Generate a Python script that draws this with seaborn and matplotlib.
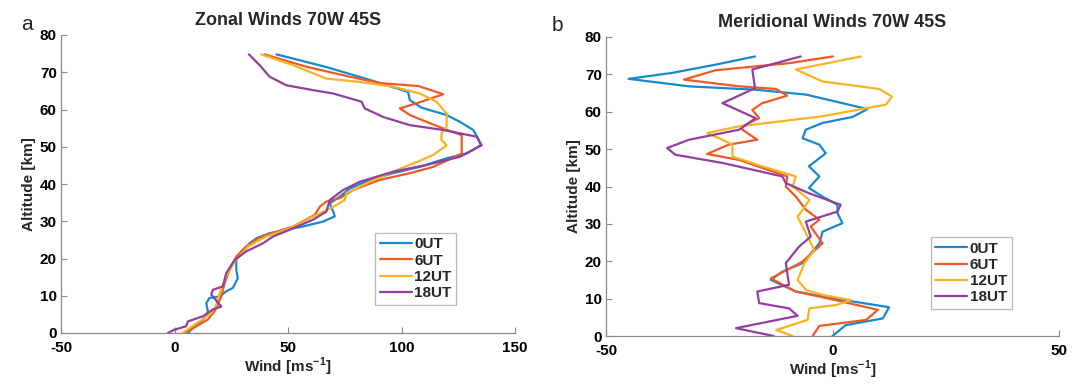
import numpy as np
import pandas as pd
import matplotlib
matplotlib.use("Agg")
import matplotlib.pyplot as plt
import seaborn as sns

# ---------------- data ----------------
series_labels = ["0UT", "6UT", "12UT", "18UT"]
series_colors = ["#1689cf", "#ef5a24", "#f9b323", "#923fa0"]

# Zonal winds (panel a)
zon_alt_0 = [74.8, 71.4, 67.4, 64.7, 62.5, 60.5, 58.5, 56.7, 54.5, 52.2, 50.4, 48.2, 46.9, 44.6, 42.9, 41.1, 38.8,
             36.6, 34.8, 32.6, 31.3, 29.9, 28.6, 27.7, 26.8, 25.4, 24.1, 21.9, 20.1, 17.0, 14.7, 12.1, 11.2, 9.8, 9.4,
             8.0, 5.8, 4.5, 2.7, 1.3, 0.0]
zon_wind_0 = [44.9, 66.9, 89.0, 102.9, 103.7, 108.8, 119.9, 125.7, 131.6, 133.8, 134.9, 128.7, 119.9, 108.0, 96.3,
              86.0, 77.2, 72.8, 68.4, 69.9, 70.6, 65.4, 56.6, 49.3, 41.9, 36.0, 33.1, 29.4, 27.2, 27.2, 27.9, 25.7,
              22.8, 19.9, 15.4, 14.0, 14.7, 14.0, 11.0, 8.1, 5.9]

zon_alt_6 = [74.8, 71.5, 68.8, 67.1, 66.3, 64.1, 62.1, 60.3, 58.5, 56.7, 54.9, 53.1, 48.2, 46.9, 44.6, 42.9, 41.1,
             38.4, 36.2, 35.3, 33.9, 31.7, 28.6, 27.2, 25.4, 23.2, 20.5, 17.0, 13.4, 9.8, 5.8, 3.6, 1.8, 0.0]
zon_wind_6 = [39.7, 58.0, 77.2, 90.4, 107.4, 118.4, 108.8, 99.3, 103.7, 111.0, 118.4, 126.5, 126.5, 122.1, 114.0,
              103.7, 90.4, 78.7, 72.8, 66.9, 64.0, 61.8, 52.2, 44.9, 36.8, 31.6, 27.2, 24.3, 22.1, 20.6, 17.6, 14.7,
              9.6, 4.4]

zon_alt_12 = [74.8, 71.9, 68.3, 67.4, 66.1, 64.3, 62.1, 58.9, 55.4, 53.6, 51.8, 50.4, 47.8, 45.5, 43.3, 40.6, 37.5,
              35.7, 33.9, 30.8, 28.1, 25.9, 23.2, 19.2, 15.2, 10.7, 7.1, 5.4, 3.1, 1.3, 0.0]
zon_wind_12 = [38.2, 52.2, 66.9, 81.6, 96.3, 108.0, 115.4, 119.9, 119.9, 117.6, 117.6, 119.9, 114.0, 105.1, 96.3,
               86.0, 75.7, 75.0, 70.0, 59.6, 50.7, 40.4, 32.4, 26.5, 22.8, 19.9, 18.1, 16.2, 11.0, 6.6, 3.7]

zon_alt_18 = [74.8, 71.9, 68.8, 66.5, 65.2, 64.3, 62.5, 62.1, 60.3, 58.0, 55.8, 54.5, 52.7, 50.4, 47.3, 45.1, 43.3,
              40.6, 38.4, 35.7, 32.6, 30.4, 28.1, 25.9, 24.1, 21.9, 19.6, 16.1, 12.5, 11.6, 10.3, 7.1, 6.3, 4.5, 3.1,
              1.8, 0.9, 0.0]
zon_wind_18 = [32.8, 37.5, 41.9, 49.3, 61.0, 69.9, 80.1, 82.4, 83.8, 91.9, 103.7, 118.4, 133.1, 135.3, 125.7, 111.0,
               96.3, 81.6, 74.3, 68.4, 66.9, 61.0, 52.2, 43.4, 39.0, 31.6, 26.5, 22.8, 21.3, 16.9, 16.2, 20.6, 16.9,
               12.5, 5.9, 5.1, 0.0, -2.9]

# Meridional winds (panel b)
mer_alt_0 = [74.8, 72.6, 70.4, 68.8, 66.8, 65.9, 64.6, 62.3, 60.7, 58.6, 57.0, 55.2, 52.9, 51.2, 48.9, 45.4, 42.7,
             39.6, 37.3, 35.1, 32.9, 30.2, 27.9, 24.8, 19.5, 17.2, 15.0, 11.9, 10.1, 7.7, 4.7, 2.9, 0.0]
mer_wind_0 = [-17.1, -25.8, -35.4, -45.0, -31.7, -17.0, -5.9, 2.2, 7.7, 4.4, -2.2, -5.9, -6.6, -2.9, -1.5, -5.2,
              -2.9, -5.2, -2.2, 1.1, 1.1, 2.2, -2.2, -2.9, -6.6, -11.1, -13.6, -8.1, 0.0, 12.5, 11.1, 2.9, 0.0]

mer_alt_6 = [74.8, 73.0, 71.1, 68.6, 66.8, 66.1, 64.3, 62.3, 60.5, 58.3, 56.1, 55.2, 52.5, 51.2, 48.7, 47.1, 42.7,
             40.0, 37.3, 33.8, 31.1, 29.3, 24.8, 19.9, 15.4, 11.9, 9.6, 7.0, 4.3, 2.7, 0.0]
mer_wind_6 = [0.1, -9.6, -25.8, -32.8, -20.6, -12.5, -10.0, -15.5, -17.7, -16.2, -19.9, -19.9, -16.6, -22.9, -27.7,
              -20.6, -10.0, -10.3, -8.1, -5.9, -2.9, -4.8, -2.2, -6.6, -13.6, -8.1, 0.7, 10.0, 7.4, -2.9, -4.4]

mer_alt_12 = [74.8, 71.3, 68.1, 66.1, 64.1, 61.9, 58.8, 56.1, 54.3, 52.5, 51.2, 48.0, 45.4, 42.7, 40.0, 36.4, 31.9,
              28.3, 23.0, 19.5, 15.0, 12.3, 11.0, 9.6, 8.3, 7.4, 4.3, 1.6, 0.0]
mer_wind_12 = [6.3, -8.1, -2.2, 10.3, 13.1, 11.8, -2.2, -20.6, -27.7, -24.3, -22.1, -22.1, -15.5, -8.1, -8.8, -5.1,
               -7.7, -6.2, -4.0, -6.2, -7.7, -5.8, -2.2, 4.1, 0.8, -5.1, -5.5, -12.4, -8.8]

mer_alt_18 = [74.8, 71.3, 66.3, 62.3, 58.3, 55.2, 52.5, 50.3, 48.5, 46.3, 42.7, 40.9, 38.2, 35.1, 33.3, 30.6, 26.6,
              23.9, 19.5, 13.7, 11.9, 8.8, 7.4, 5.4, 2.1, 0.0]
mer_wind_18 = [-7.0, -17.7, -17.1, -24.3, -17.0, -20.6, -31.7, -36.5, -34.7, -24.3, -11.1, -10.3, -5.2, 1.8, 1.1,
               -5.9, -4.8, -7.4, -10.3, -9.6, -16.6, -16.2, -9.6, -7.7, -21.3, -13.0]

zon_xticks = [-50, 0, 50, 100, 150]
mer_xticks = [-50, 0, 50]
alt_ticks = [0, 10, 20, 30, 40, 50, 60, 70, 80]


def build(alts, winds):
    frames = []
    for lab, a, w in zip(series_labels, alts, winds):
        frames.append(pd.DataFrame({"Altitude": a, "Wind": w, "Time": lab}))
    return pd.concat(frames, ignore_index=True)


df_zon = build([zon_alt_0, zon_alt_6, zon_alt_12, zon_alt_18],
               [zon_wind_0, zon_wind_6, zon_wind_12, zon_wind_18])
df_mer = build([mer_alt_0, mer_alt_6, mer_alt_12, mer_alt_18],
               [mer_wind_0, mer_wind_6, mer_wind_12, mer_wind_18])

# ---------------- style ----------------
sns.set_style("white")
plt.rcParams["font.family"] = ["Liberation Sans", "DejaVu Sans"]
plt.rcParams["mathtext.fontset"] = "custom"
plt.rcParams["mathtext.bf"] = "Liberation Sans:bold"
plt.rcParams["mathtext.rm"] = "Liberation Sans"

axis_gray = "#8a8a8a"
tick_fs = 11
label_fs = 11
title_fs = 13
legend_fs = 11

fig = plt.figure(figsize=(10.81, 3.89), dpi=100)
ax1 = fig.add_axes([61 / 1081, 1 - 333 / 389, (515 - 61) / 1081, (333 - 35) / 389])
ax2 = fig.add_axes([606 / 1081, 1 - 336 / 389, (1059 - 606) / 1081, (336 - 37) / 389])


def draw(ax, df, xticks, title, leg_anchor):
    sns.lineplot(data=df, x="Wind", y="Altitude", hue="Time", hue_order=series_labels,
                 palette=series_colors, sort=False, estimator=None, orient="y",
                 linewidth=1.6, legend=False, ax=ax)
    ax.set_xlim(xticks[0], xticks[-1])
    ax.set_ylim(0, 80)
    ax.set_xticks(xticks)
    ax.set_yticks(alt_ticks)
    ax.set_xticklabels([str(t) for t in xticks], fontweight="bold", fontsize=tick_fs)
    ax.set_yticklabels([str(t) for t in alt_ticks], fontweight="bold", fontsize=tick_fs)
    ax.set_xlabel(r"Wind [ms$^{\mathbf{-1}}$]", fontweight="bold", fontsize=label_fs, labelpad=1)
    ax.set_ylabel("Altitude [km]", fontweight="bold", fontsize=label_fs, labelpad=3)
    ax.set_title(title, fontweight="bold", fontsize=title_fs, pad=7)
    for s in ["top", "right"]:
        ax.spines[s].set_visible(False)
    for s in ["left", "bottom"]:
        ax.spines[s].set_color(axis_gray)
        ax.spines[s].set_linewidth(0.9)
    ax.tick_params(direction="in", length=4, width=0.8, color=axis_gray, labelcolor="black",
                   left=True, bottom=True)
    ax.tick_params(axis="x", pad=5.5)
    ax.tick_params(axis="y", pad=3)
    handles = ax.get_lines()[:4]
    leg = ax.legend(handles, series_labels, loc="upper left", bbox_to_anchor=leg_anchor,
                    borderaxespad=0, frameon=True, fancybox=False,
                    prop={"weight": "bold", "size": legend_fs}, handlelength=2.1, handletextpad=0.15,
                    labelspacing=0.15, borderpad=0.3)
    leg.get_frame().set_edgecolor("#a8a8a8")
    leg.get_frame().set_linewidth(0.9)


draw(ax1, df_zon, zon_xticks, "Zonal Winds 70W 45S", (0.692, 0.336))
draw(ax2, df_mer, mer_xticks, "Meridional Winds 70W 45S", (0.717, 0.331))

fig.text(21 / 1081, 1 - 30 / 389, "a", fontsize=15)
fig.text(552 / 1081, 1 - 31 / 389, "b", fontsize=15)

fig.savefig("out.png", dpi=100)
